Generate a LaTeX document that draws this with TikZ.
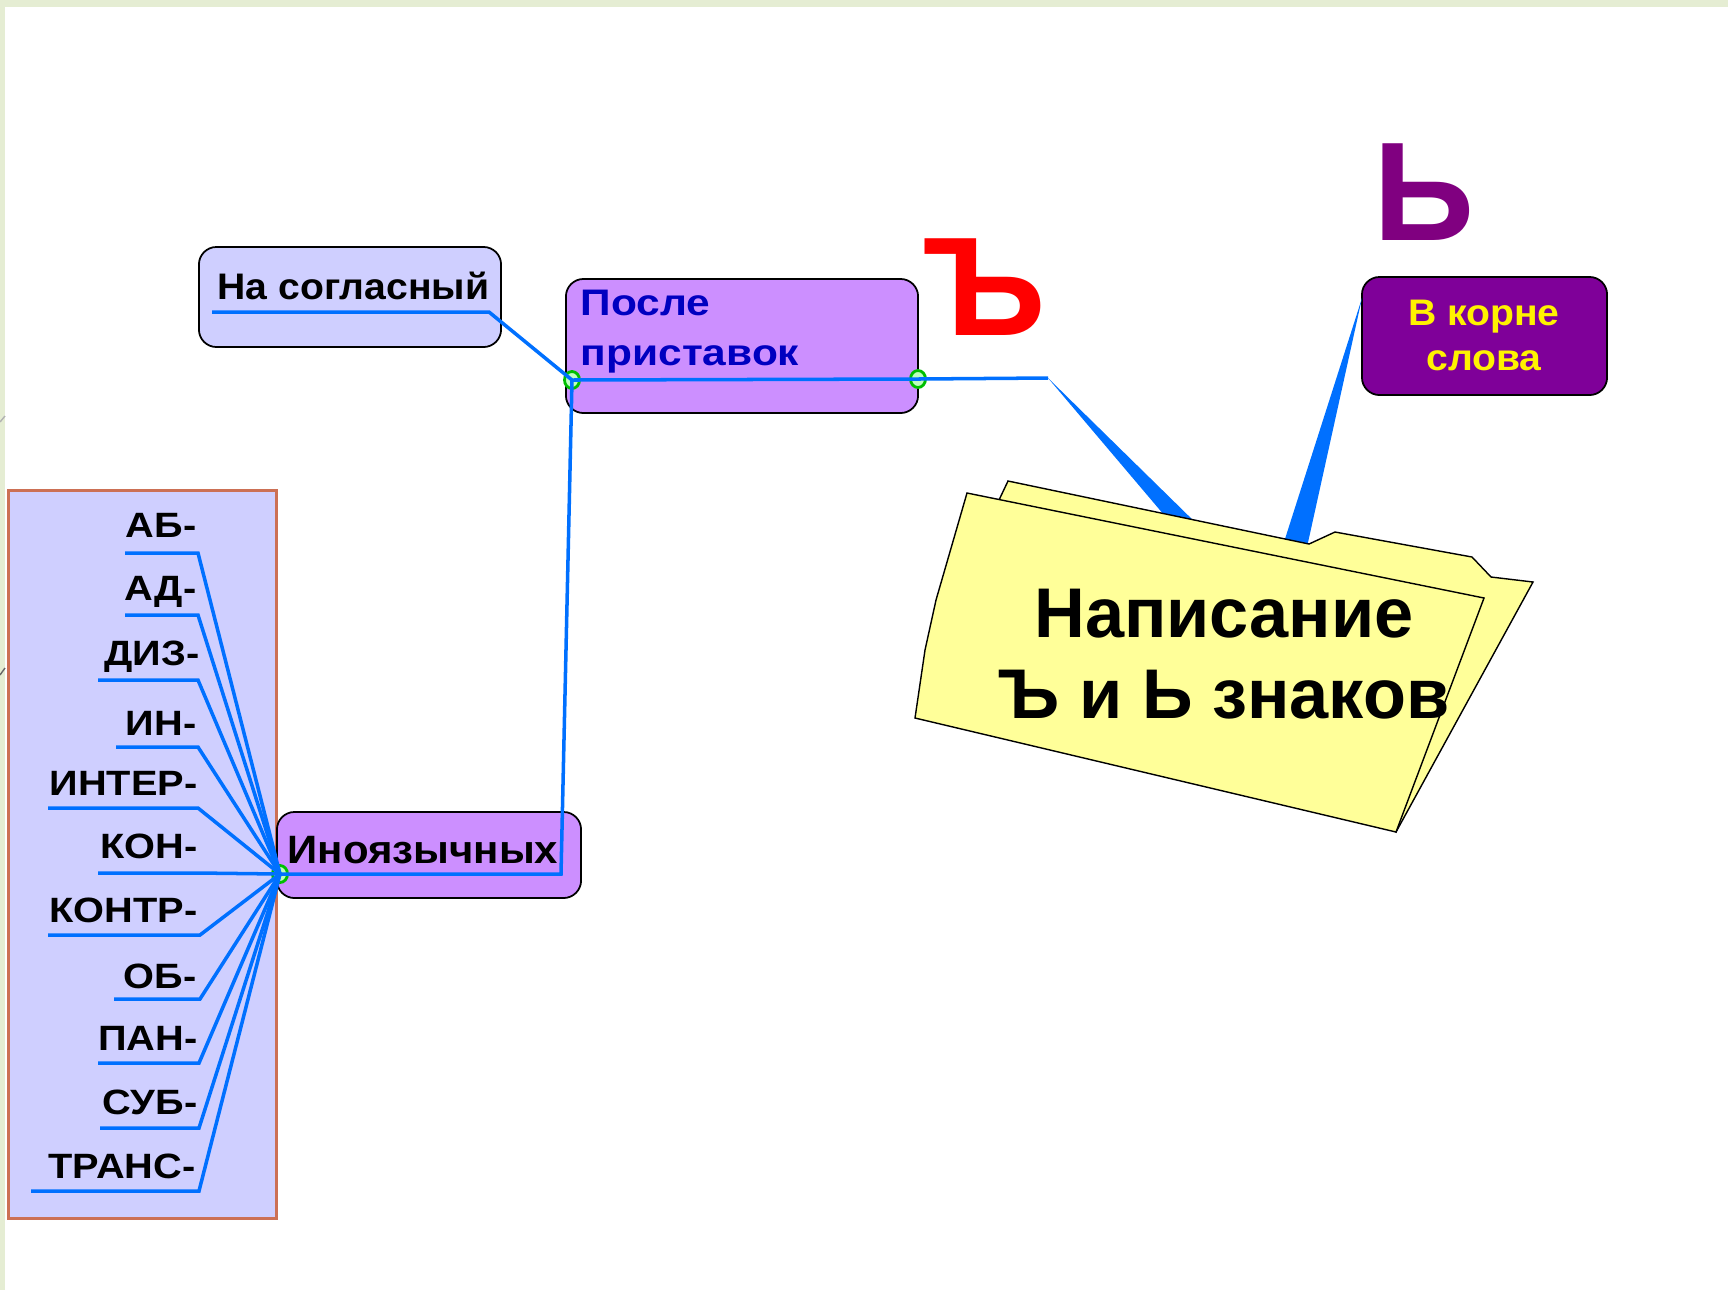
\documentclass[tikz,border=0pt]{standalone}
\usepackage{fontspec}
\usepackage{xcolor}
\setmainfont{Liberation Sans}
\newfontfamily\boxfont[FakeStretch=1.06]{Liberation Sans}
\newfontfamily\prefixfont[FakeStretch=1.13]{Liberation Sans}
\newfontfamily\wideboxfont[FakeStretch=1.15]{Liberation Sans}
\usetikzlibrary{shapes.geometric, positioning}
\definecolor{stripgreen}{HTML}{E5EDD3}
\definecolor{linkblue}{HTML}{0070FF}
\definecolor{panelblue}{HTML}{CFCFFF}
\definecolor{paneledge}{HTML}{CC7055}
\definecolor{boxviolet}{HTML}{CC8FFF}
\definecolor{darkviolet}{HTML}{7F0099}
\definecolor{signviolet}{HTML}{800080}
\definecolor{textblue}{HTML}{0000C0}
\definecolor{folderyellow}{HTML}{FFFF99}

\begin{document}
\begin{tikzpicture}[
    x=0.01cm, y=-0.01cm,
    panel/.style={rectangle, draw=paneledge, fill=panelblue, line width=0.9pt, minimum width=2.68cm, minimum height=7.28cm, inner sep=0pt},
    lightbox/.style={rectangle, rounded corners=5pt, draw=black, fill=panelblue, line width=0.5pt, inner sep=0pt},
    violetbox/.style={rectangle, rounded corners=5pt, draw=black, fill=boxviolet, line width=0.5pt, inner sep=0pt},
    darkbox/.style={rectangle, rounded corners=5pt, draw=black, fill=darkviolet, line width=0.5pt, inner sep=0pt},
    boxtext/.style={inner sep=0pt, anchor=base west, font=\boxfont\fontsize{10.5}{12}\selectfont\bfseries},
    prefixlabel/.style={inner sep=0pt, anchor=base east, font=\prefixfont\fontsize{10}{12}\selectfont\bfseries},
    hub/.style={ellipse, draw=green!75!black, fill=green!25, line width=0.8pt, minimum width=0.15cm, minimum height=0.17cm, inner sep=0pt},
    link/.style={draw=linkblue, line width=1pt},
    wedge/.style={fill=linkblue},
    folder/.style={draw=black, fill=folderyellow, line width=0.4pt},
    sign/.style={inner sep=0pt, anchor=base west, font=\fontsize{40}{42}\selectfont\bfseries}
]
\path[use as bounding box] (0,0) rectangle (1728,1290);

% Slide edge
\fill[stripgreen] (0,0) rectangle (1728,7);
\fill[stripgreen] (0,0) rectangle (5,1290);
\draw[gray!60, line width=0.4pt] (0,422) -- (5,416);
\draw[black!60, line width=0.4pt] (0,675) -- (5,668);

% Prefix panel
\node[panel] (prefixpanel) at (142.5,854.5) {};

% Boxes
\node[lightbox, minimum width=3.02cm, minimum height=1cm] (soglasnybox) at (350,297) {};
\node[violetbox, minimum width=3.52cm, minimum height=1.34cm] (pristavkibox) at (742,346) {};
\node[violetbox, minimum width=3.04cm, minimum height=0.86cm] (inoyazbox) at (429,855) {};
\node[darkbox, minimum width=2.45cm, minimum height=1.18cm] (kornebox) at (1484.5,336) {};

% Box texts
\node[boxtext] (soglasny) at (217,299) {На согласный};
\node[boxtext, font=\wideboxfont\fontsize{10.5}{12}\selectfont\bfseries, text=textblue] (posle) at (580,315) {После};
\node[boxtext, font=\wideboxfont\fontsize{10.5}{12}\selectfont\bfseries, text=textblue] (pristavok) at (580,365) {приставок};
\node[boxtext, anchor=base] (inoyaz) at (423,863) {\fontsize{11.25}{12}\selectfont Иноязычных};
\node[boxtext, anchor=base, text=yellow] (vkorne) at (1484,325) {В корне};
\node[boxtext, anchor=base, text=yellow] (slova) at (1484,370) {слова};

% Prefix labels
\node[prefixlabel] (ab) at (197,537) {АБ-};
\node[prefixlabel] (ad) at (197,600) {АД-};
\node[prefixlabel] (diz) at (200,665) {ДИЗ-};
\node[prefixlabel] (in) at (197,735) {ИН-};
\node[prefixlabel] (inter) at (198,795) {ИНТЕР-};
\node[prefixlabel] (kon) at (198,858) {КОН-};
\node[prefixlabel] (kontr) at (198,922) {КОНТР-};
\node[prefixlabel] (ob) at (197,988) {ОБ-};
\node[prefixlabel] (pan) at (198,1050) {ПАН-};
\node[prefixlabel] (sub) at (198,1114) {СУБ-};
\node[prefixlabel] (trans) at (196,1178) {ТРАНС-};

% Hubs
\node[hub] (hubleft) at (280,874) {};
\node[hub] (hubtop) at (572,380) {};
\node[hub] (hubright) at (918,379) {};

% Underline ends
\coordinate (abstart) at (125,553);
\coordinate (abend) at (198,553);
\coordinate (adstart) at (125,615);
\coordinate (adend) at (198,615);
\coordinate (dizstart) at (98,680);
\coordinate (dizend) at (198,680);
\coordinate (instart) at (116,747);
\coordinate (inend) at (198,747);
\coordinate (interstart) at (48,808);
\coordinate (interend) at (198,808);
\coordinate (konstart) at (98,873);
\coordinate (konend) at (198,873);
\coordinate (kontrstart) at (48,935);
\coordinate (kontrend) at (200,935);
\coordinate (obstart) at (114,999);
\coordinate (obend) at (200,999);
\coordinate (panstart) at (98,1063);
\coordinate (panend) at (199,1063);
\coordinate (substart) at (100,1128);
\coordinate (subend) at (199,1128);
\coordinate (transstart) at (31,1191);
\coordinate (transend) at (199,1191);

% Bends and wedge ends
\coordinate (soglasnystart) at (212,312);
\coordinate (soglasnyend) at (489,312);
\coordinate (inoyazbend) at (561,874);
\coordinate (rightbend) at (1048,378);
\coordinate (rightwedgea) at (1170,522);
\coordinate (rightwedgeb) at (1201,528);
\coordinate (kornetip) at (1362,298);
\coordinate (kornewedgea) at (1284,542);
\coordinate (kornewedgeb) at (1307,547);

% Connectors
\draw[link] (abstart) -- (abend) -- (hubleft.center);
\draw[link] (adstart) -- (adend) -- (hubleft.center);
\draw[link] (dizstart) -- (dizend) -- (hubleft.center);
\draw[link] (instart) -- (inend) -- (hubleft.center);
\draw[link] (interstart) -- (interend) -- (hubleft.center);
\draw[link] (konstart) -- (konend) -- (hubleft.center);
\draw[link] (kontrstart) -- (kontrend) -- (hubleft.center);
\draw[link] (obstart) -- (obend) -- (hubleft.center);
\draw[link] (panstart) -- (panend) -- (hubleft.center);
\draw[link] (substart) -- (subend) -- (hubleft.center);
\draw[link] (transstart) -- (transend) -- (hubleft.center);
\draw[link] (hubleft.center) -- (inoyazbend) -- (hubtop.center);
\draw[link] (soglasnystart) -- (soglasnyend) -- (hubtop.center);
\draw[link] (hubtop.center) -- (hubright.center) -- (rightbend);
\fill[wedge] (rightbend) -- (rightwedgea) -- (rightwedgeb) -- cycle;
\fill[wedge] (kornetip) -- (kornewedgea) -- (kornewedgeb) -- cycle;

% Folder
\draw[folder] (1008,481) -- (1309,544) -- (1335,532) -- (1472,557) -- (1491,577) -- (1533,582) -- (1396,832) -- (999,500) -- cycle;
\draw[folder] (967,493) -- (1484,598) -- (1396,832) -- (915,718) -- (925,650) -- (936,600) -- cycle;
\node[font=\fontsize{20}{23}\selectfont\bfseries, align=center, inner sep=0pt] (writing) at (1224,654) {Написание\\Ъ и Ь знаков};

% Signs
\node[sign, text=red] (hardsign) at (923,335) {Ъ};
\node[sign, text=signviolet] (softsign) at (1373,240) {Ь};

\end{tikzpicture}
\end{document}
